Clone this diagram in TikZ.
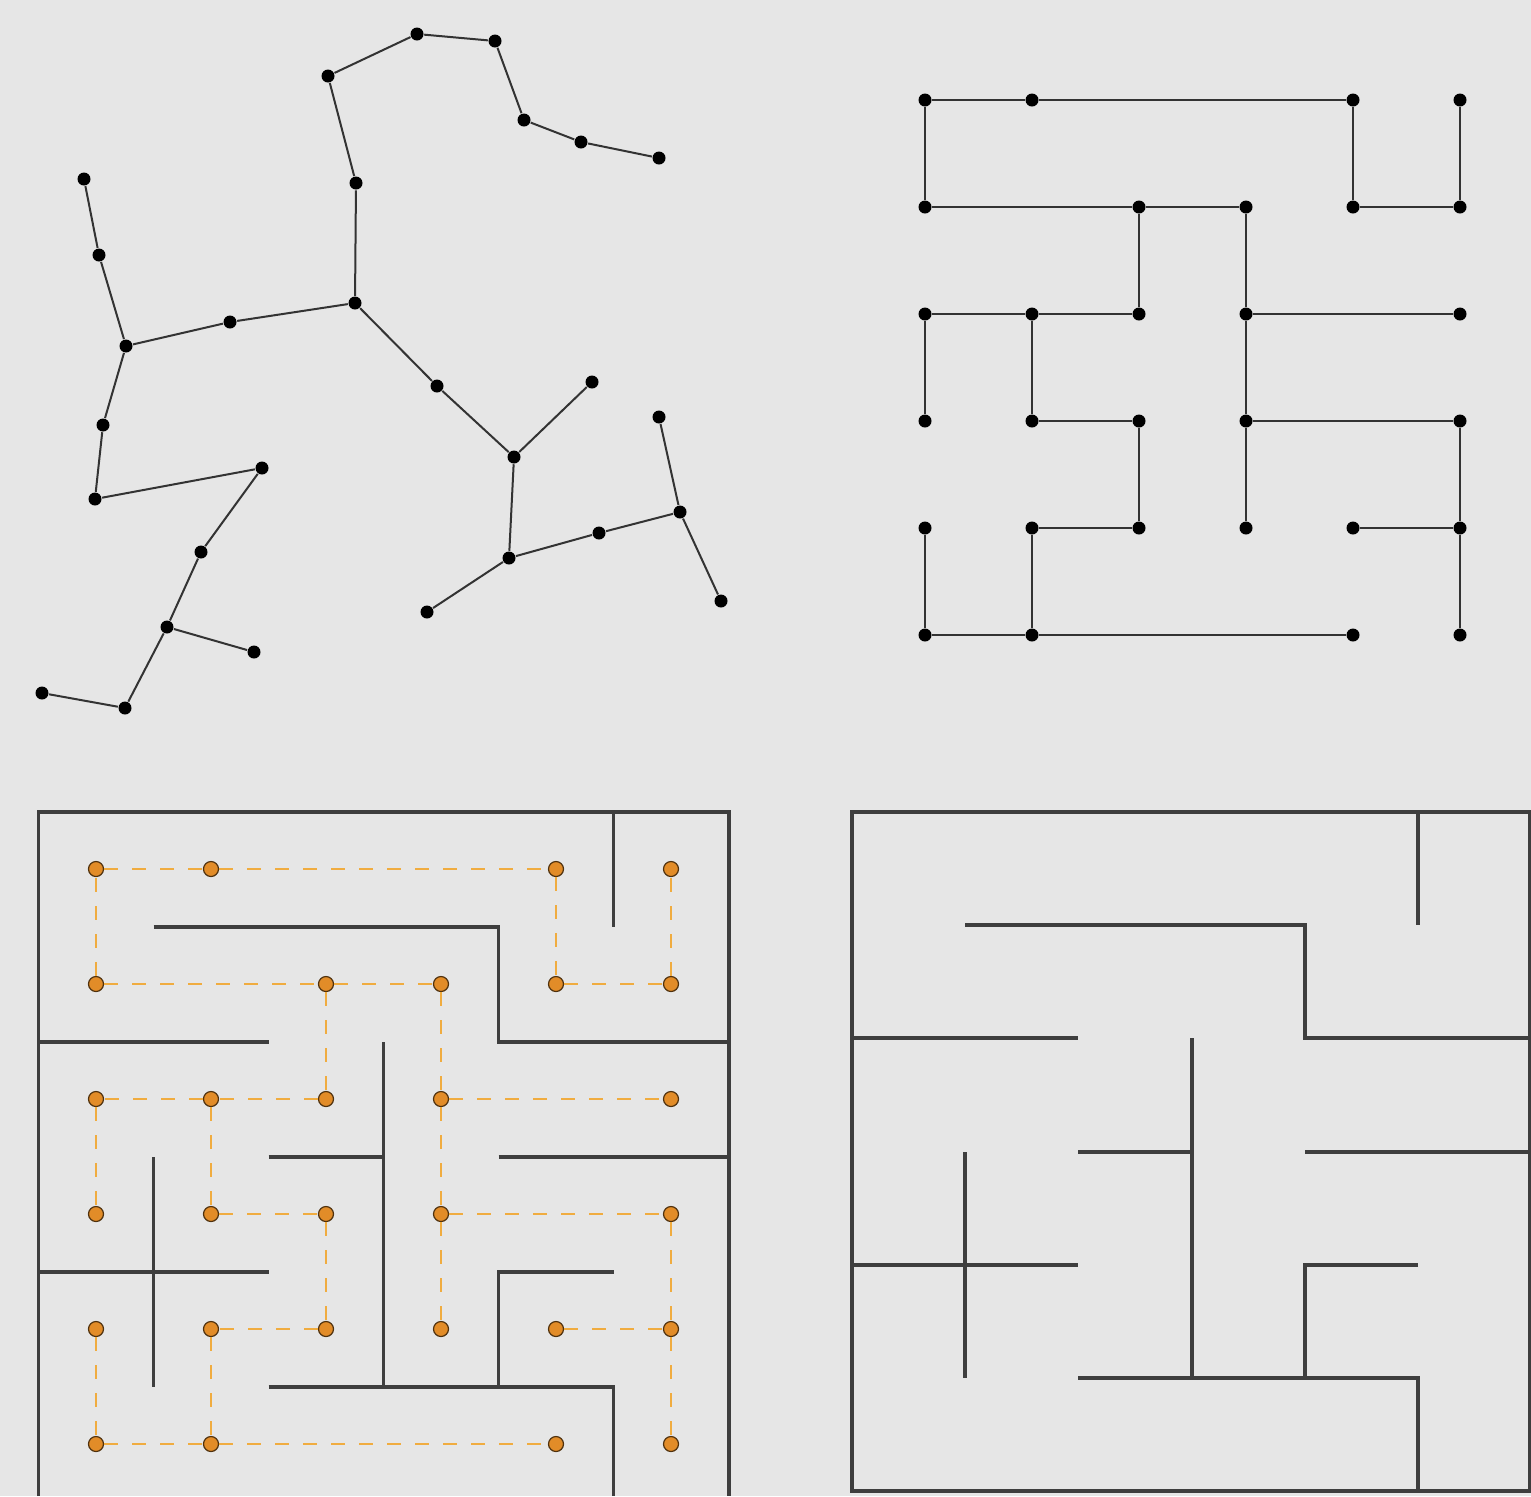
\documentclass[tikz,border=0pt]{standalone}
\tikzset{every picture/.style={line width=0.75pt}}
\definecolor{bgc}{RGB}{230,230,230}
\definecolor{wallc}{RGB}{62,62,62}
\definecolor{orfill}{RGB}{226,140,40}
\definecolor{ordash}{RGB}{240,172,64}

\begin{document}
\begin{tikzpicture}[x=0.5pt,y=0.5pt,yscale=-1,
  dot/.style={circle,fill=black,inner sep=0pt,minimum size=6.5pt},
  cell/.style={circle,fill=orfill,draw=black!65!orfill,line width=0.6pt,inner sep=0pt,minimum size=7.5pt},
  link/.style={draw=black!80,line width=1pt},
  trail/.style={draw=ordash,dash pattern=on 7pt off 7pt,line width=0.9pt},
  wall/.style={draw=wallc,line width=1.6pt}]

%Background [id:bg]
\useasboundingbox [fill=bgc] (0,0) rectangle (1531,1496);

%Free tree: nodes
\node [dot] (v1) at (328,76) {};
\node [dot] (v2) at (417,34) {};
\node [dot] (v3) at (495,41) {};
\node [dot] (v4) at (524,120) {};
\node [dot] (v5) at (581,142) {};
\node [dot] (v6) at (659,158) {};
\node [dot] (v7) at (356,183) {};
\node [dot] (v8) at (84,179) {};
\node [dot] (v9) at (99,255) {};
\node [dot] (v10) at (355,303) {};
\node [dot] (v11) at (230,322) {};
\node [dot] (v12) at (126,346) {};
\node [dot] (v13) at (437,386) {};
\node [dot] (v14) at (592,382) {};
\node [dot] (v15) at (659,417) {};
\node [dot] (v16) at (103,425) {};
\node [dot] (v17) at (514,457) {};
\node [dot] (v18) at (95,499) {};
\node [dot] (v19) at (262,468) {};
\node [dot] (v20) at (680,512) {};
\node [dot] (v21) at (201,552) {};
\node [dot] (v22) at (599,533) {};
\node [dot] (v23) at (509,558) {};
\node [dot] (v24) at (721,601) {};
\node [dot] (v25) at (427,612) {};
\node [dot] (v26) at (167,627) {};
\node [dot] (v27) at (254,652) {};
\node [dot] (v28) at (42,693) {};
\node [dot] (v29) at (125,708) {};

%Free tree: edges
\draw [link] (v1) -- (v2) -- (v3) -- (v4) -- (v5) -- (v6);
\draw [link] (v1) -- (v7) -- (v10) -- (v11) -- (v12) -- (v9) -- (v8);
\draw [link] (v12) -- (v16) -- (v18) -- (v19) -- (v21) -- (v26) -- (v27);
\draw [link] (v26) -- (v29) -- (v28);
\draw [link] (v10) -- (v13) -- (v17) -- (v14);
\draw [link] (v17) -- (v23) -- (v25);
\draw [link] (v23) -- (v22) -- (v20) -- (v15);
\draw [link] (v20) -- (v24);

%Grid tree: nodes
\node [dot] (g11) at (925,100) {};
\node [dot] (g21) at (1032,100) {};
\node [dot] (g51) at (1353,100) {};
\node [dot] (g61) at (1460,100) {};
\node [dot] (g12) at (925,207) {};
\node [dot] (g32) at (1139,207) {};
\node [dot] (g42) at (1246,207) {};
\node [dot] (g52) at (1353,207) {};
\node [dot] (g62) at (1460,207) {};
\node [dot] (g13) at (925,314) {};
\node [dot] (g23) at (1032,314) {};
\node [dot] (g33) at (1139,314) {};
\node [dot] (g43) at (1246,314) {};
\node [dot] (g63) at (1460,314) {};
\node [dot] (g14) at (925,421) {};
\node [dot] (g24) at (1032,421) {};
\node [dot] (g34) at (1139,421) {};
\node [dot] (g44) at (1246,421) {};
\node [dot] (g64) at (1460,421) {};
\node [dot] (g15) at (925,528) {};
\node [dot] (g25) at (1032,528) {};
\node [dot] (g35) at (1139,528) {};
\node [dot] (g45) at (1246,528) {};
\node [dot] (g55) at (1353,528) {};
\node [dot] (g65) at (1460,528) {};
\node [dot] (g16) at (925,635) {};
\node [dot] (g26) at (1032,635) {};
\node [dot] (g56) at (1353,635) {};
\node [dot] (g66) at (1460,635) {};

%Grid tree: edges
\draw [link] (g12) -- (g11) -- (g21) -- (g51) -- (g52) -- (g62) -- (g61);
\draw [link] (g12) -- (g32) -- (g42) -- (g43) -- (g44) -- (g45);
\draw [link] (g32) -- (g33) -- (g23) -- (g13) -- (g14);
\draw [link] (g23) -- (g24) -- (g34) -- (g35) -- (g25) -- (g26);
\draw [link] (g15) -- (g16) -- (g26) -- (g56);
\draw [link] (g43) -- (g63);
\draw [link] (g44) -- (g64) -- (g65) -- (g66);
\draw [link] (g55) -- (g65);

%Maze with tree: walls
\draw [wall] (38.5,1496) -- (38.5,812) -- (729,812) -- (729,1496);
\draw [wall] (613.5,812) -- (613.5,927);
\draw [wall] (153.5,927) -- (498.5,927) -- (498.5,1042) -- (729,1042);
\draw [wall] (38.5,1042) -- (268.5,1042);
\draw [wall] (383.5,1042) -- (383.5,1387);
\draw [wall] (268.5,1157) -- (383.5,1157);
\draw [wall] (498.5,1157) -- (729,1157);
\draw [wall] (153.5,1157) -- (153.5,1387);
\draw [wall] (38.5,1272) -- (268.5,1272);
\draw [wall] (613.5,1272) -- (498.5,1272) -- (498.5,1387);
\draw [wall] (268.5,1387) -- (613.5,1387) -- (613.5,1496);

%Maze with tree: nodes
\node [cell] (o11) at (96,869) {};
\node [cell] (o21) at (211,869) {};
\node [cell] (o51) at (556,869) {};
\node [cell] (o61) at (671,869) {};
\node [cell] (o12) at (96,984) {};
\node [cell] (o32) at (326,984) {};
\node [cell] (o42) at (441,984) {};
\node [cell] (o52) at (556,984) {};
\node [cell] (o62) at (671,984) {};
\node [cell] (o13) at (96,1099) {};
\node [cell] (o23) at (211,1099) {};
\node [cell] (o33) at (326,1099) {};
\node [cell] (o43) at (441,1099) {};
\node [cell] (o63) at (671,1099) {};
\node [cell] (o14) at (96,1214) {};
\node [cell] (o24) at (211,1214) {};
\node [cell] (o34) at (326,1214) {};
\node [cell] (o44) at (441,1214) {};
\node [cell] (o64) at (671,1214) {};
\node [cell] (o15) at (96,1329) {};
\node [cell] (o25) at (211,1329) {};
\node [cell] (o35) at (326,1329) {};
\node [cell] (o45) at (441,1329) {};
\node [cell] (o55) at (556,1329) {};
\node [cell] (o65) at (671,1329) {};
\node [cell] (o16) at (96,1444) {};
\node [cell] (o26) at (211,1444) {};
\node [cell] (o56) at (556,1444) {};
\node [cell] (o66) at (671,1444) {};

%Maze with tree: dashed edges
\draw [trail] (o12) -- (o11) -- (o21) -- (o51) -- (o52) -- (o62) -- (o61);
\draw [trail] (o12) -- (o32) -- (o42) -- (o43) -- (o44) -- (o45);
\draw [trail] (o32) -- (o33) -- (o23) -- (o13) -- (o14);
\draw [trail] (o23) -- (o24) -- (o34) -- (o35) -- (o25) -- (o26);
\draw [trail] (o15) -- (o16) -- (o26) -- (o56);
\draw [trail] (o43) -- (o63);
\draw [trail] (o44) -- (o64) -- (o65) -- (o66);
\draw [trail] (o55) -- (o65);

%Maze: walls
\draw [wall] (852,812) rectangle (1530,1491);
\draw [wall] (1418,812) -- (1418,925);
\draw [wall] (965,925) -- (1305,925) -- (1305,1038) -- (1530,1038);
\draw [wall] (852,1038) -- (1078,1038);
\draw [wall] (1192,1038) -- (1192,1378);
\draw [wall] (1078,1152) -- (1192,1152);
\draw [wall] (1305,1152) -- (1530,1152);
\draw [wall] (965,1152) -- (965,1378);
\draw [wall] (852,1265) -- (1078,1265);
\draw [wall] (1418,1265) -- (1305,1265) -- (1305,1378);
\draw [wall] (1078,1378) -- (1418,1378) -- (1418,1491);

\end{tikzpicture}
\end{document}
